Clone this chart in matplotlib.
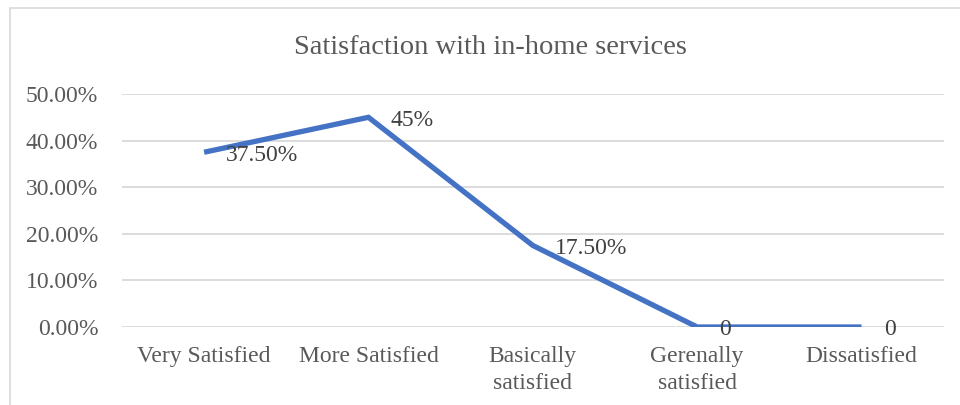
import matplotlib.pyplot as plt
from matplotlib.patches import Rectangle
from matplotlib.ticker import FuncFormatter

# Data kepuasan layanan di rumah
kategori = ["Very Satisfied", "More Satisfied", "Basically\nsatisfied",
            "Gerenally\nsatisfied", "Dissatisfied"]
nilai = [0.375, 0.45, 0.175, 0.0, 0.0]
label_nilai = ["37.50%", "45%", "17.50%", "0", "0"]
y_ticks = [0.0, 0.1, 0.2, 0.3, 0.4, 0.5]

plt.rcParams['font.family'] = ['Liberation Serif', 'DejaVu Serif']
abu = '#595959'

fig = plt.figure(figsize=(9.6, 4.05), dpi=100)
ax = fig.add_axes([0.127, 0.1926, 0.856, 0.5753])

# bingkai grafik (sisi kanan dan bawah terpotong)
fig.patches.append(Rectangle((10 / 960, -0.1), 1.0, 1 - 7.5 / 405 + 0.1,
                             transform=fig.transFigure, fill=False,
                             edgecolor='#D9D9D9', linewidth=1.2))

x = list(range(len(kategori)))
ax.plot(x, nilai, color='#4472C4', linewidth=3.8, solid_capstyle='butt',
        solid_joinstyle='miter', zorder=3)

for xi, yi, teks in zip(x, nilai, label_nilai):
    ax.annotate(teks, (xi, yi), xytext=(16, -2), textcoords='offset points',
                ha='left', va='center', fontsize=17, color='#404040', zorder=4)

ax.set_xlim(-0.5, len(kategori) - 0.5)
ax.set_ylim(0, 0.5)
ax.set_yticks(y_ticks)
ax.yaxis.set_major_formatter(FuncFormatter(lambda v, p: f"{v * 100:.2f}%"))
ax.set_xticks(x)
ax.set_xticklabels(kategori, linespacing=1.35)

ax.grid(axis='y', color='#D9D9D9', linewidth=1.3)
ax.set_axisbelow(True)
for s in ax.spines.values():
    s.set_visible(False)
ax.tick_params(axis='both', length=0, labelsize=17, labelcolor=abu)
ax.tick_params(axis='y', pad=17)
ax.tick_params(axis='x', pad=14)

fig.text(0.511, 1 - 47 / 405, "Satisfaction with in-home services",
         ha='center', va='center', fontsize=20.5, color=abu)

plt.savefig("out.png", dpi=100)
